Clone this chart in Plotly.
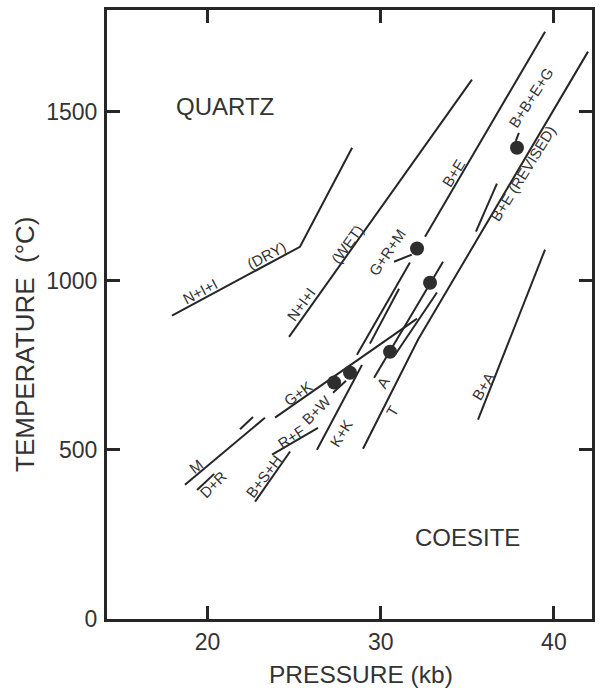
import plotly.graph_objects as go

# ---- data (pressure kb, temperature C) ----
dry_p = [17.95, 25.34, 28.35]
dry_t = [897, 1100, 1393]
wet_p = [24.71, 35.27]
wet_t = [834, 1594]
be_up_p = [32.56, 39.49]
be_up_t = [1130, 1736]
be_lo_p = [28.63, 31.69]
be_lo_t = [781, 1054]
par_p = [29.38, 31.06]
par_t = [814, 976]
gk_p = [23.90, 32.10]
gk_t = [595, 888]
m_p = [18.70, 23.32]
m_t = [397, 595]
m2_p = [21.88, 22.63]
m2_t = [561, 597]
dr_p = [19.40, 20.39]
dr_t = [381, 429]
bsh_p = [22.75, 24.77]
bsh_t = [347, 495]
rf_p = [23.73, 26.38]
rf_t = [486, 565]
kk_p = [26.32, 28.92]
kk_t = [500, 751]
bw_lead_p = [27.25, 28.0]
bw_lead_t = [669, 704]
a_p = [29.62, 33.60]
a_t = [713, 1056]
a2_p = [30.83, 33.25]
a2_t = [781, 965]
t_p = [28.98, 32.16, 41.97]
t_t = [503, 826, 1677]
rev_short_p = [35.50, 36.71]
rev_short_t = [1145, 1287]
ba_p = [35.62, 39.49]
ba_t = [589, 1092]
grm_lead_p = [30.77, 31.80]
grm_lead_t = [1056, 1077]
bbeg_lead_p = [37.80, 37.98]
bbeg_lead_t = [1413, 1437]

dot_p = [27.31, 28.23, 30.54, 32.85, 32.10, 37.87]
dot_t = [699, 728, 790, 994, 1095, 1393]

label_text = ["N+I+I", "(DRY)", "N+I+I", "(WET)", "G+R+M", "B+E", "B+B+E+G",
              "B+E (REVISED)", "B+A", "A", "T", "K+K", "B+W", "G+K", "R+F",
              "B+S+H", "M", "D+R"]
label_p = [19.57, 23.38, 25.40, 28.06, 30.42, 34.23, 38.68, 38.22, 35.91,
           30.14, 30.66, 27.71, 26.32, 25.23, 24.88, 23.26, 19.34, 20.32]
label_t = [967, 1074, 929, 1106, 1085, 1319, 1541, 1316, 687, 699, 613,
           548, 618, 666, 539, 420, 450, 397]
label_angle = [28, 28, 54, 54, 56, 58, 57, 58, 59, 60, 60, 58, 45, 36, 34,
               53, 38, 45]

region_text = ["QUARTZ", "COESITE"]
region_p = [21.01, 35.01]
region_t = [1515, 240]

x_ticks = [20, 30, 40]
y_ticks = [0, 500, 1000, 1500]

LINE = "#262626"
TXT = "#333333"
FONT = "Liberation Sans, Arial, sans-serif"

fig = go.Figure()
segments = [
    (dry_p, dry_t), (wet_p, wet_t), (be_up_p, be_up_t), (be_lo_p, be_lo_t),
    (par_p, par_t), (gk_p, gk_t), (m_p, m_t), (m2_p, m2_t), (dr_p, dr_t),
    (bsh_p, bsh_t), (rf_p, rf_t), (kk_p, kk_t), (bw_lead_p, bw_lead_t),
    (a_p, a_t), (a2_p, a2_t), (t_p, t_t), (rev_short_p, rev_short_t),
    (ba_p, ba_t), (grm_lead_p, grm_lead_t), (bbeg_lead_p, bbeg_lead_t),
]
for xs, ys in segments:
    fig.add_trace(go.Scatter(x=xs, y=ys, mode="lines",
                             line=dict(color=LINE, width=2),
                             showlegend=False, hoverinfo="skip"))

fig.add_trace(go.Scatter(x=dot_p, y=dot_t, mode="markers",
                         marker=dict(color="#2e2e2e", size=14),
                         showlegend=False, hoverinfo="skip"))

annotations = []
for s, p, t, a in zip(label_text, label_p, label_t, label_angle):
    annotations.append(dict(x=p, y=t, xref="x", yref="y", text=s,
                            showarrow=False, textangle=-a,
                            font=dict(size=15, color=TXT, family=FONT)))
for s, p, t in zip(region_text, region_p, region_t):
    annotations.append(dict(x=p, y=t, xref="x", yref="y", text=s,
                            showarrow=False,
                            font=dict(size=24, color=TXT, family=FONT)))

annotations.append(dict(x=0.524, y=-0.091, xref="paper", yref="paper",
                        text="PRESSURE (kb)", showarrow=False,
                        xanchor="center", yanchor="middle",
                        font=dict(size=24.5, color=TXT, family=FONT)))
annotations.append(dict(x=-0.169, y=0.45, xref="paper", yref="paper",
                        text="TEMPERATURE  (°C)", showarrow=False,
                        textangle=-90, xanchor="center", yanchor="middle",
                        font=dict(size=26, color=TXT, family=FONT)))

axis_common = dict(showline=True, linewidth=3, linecolor=LINE, mirror="ticks",
                   ticks="inside", ticklen=13, tickwidth=2.5, tickcolor=LINE,
                   showgrid=False, zeroline=False, automargin=False,
                   tickfont=dict(size=23, color=TXT, family=FONT))

fig.update_layout(
    width=601, height=688,
    margin=dict(l=107, r=9, t=10, b=69),
    paper_bgcolor="white", plot_bgcolor="white",
    xaxis=dict(range=[14.2, 42.2], tickvals=x_ticks, ticklabelstandoff=0,
               **axis_common),
    yaxis=dict(range=[0, 1800], tickvals=y_ticks, ticklabelstandoff=2,
               **axis_common),
    annotations=annotations,
)

fig.write_html("out.html",
               config={"displayModeBar": False},
               post_script="document.body.style.margin='0';"
                           "document.body.style.overflow='hidden';")
